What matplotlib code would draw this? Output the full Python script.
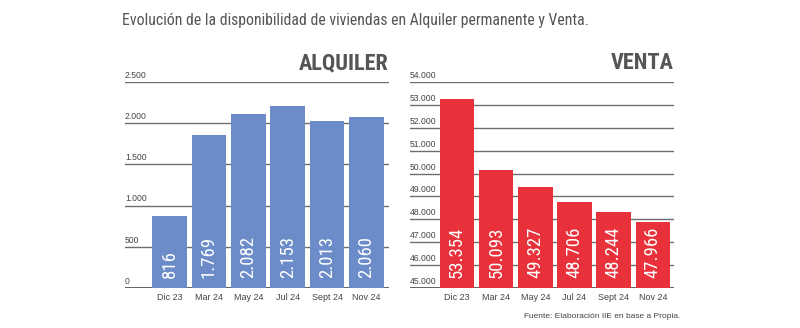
import matplotlib
matplotlib.use("Agg")
import matplotlib.pyplot as plt
from matplotlib import font_manager

names = {f.name for f in font_manager.fontManager.ttflist}
cond = None
for cand in ["Liberation Sans Narrow", "Roboto Condensed", "DejaVu Sans Condensed", "Open Sans Condensed"]:
    if cand in names:
        cond = cand
        break
if cond is None:
    cond = "DejaVu Sans"
plain = "Liberation Sans" if "Liberation Sans" in names else "DejaVu Sans"

categories = ["Dic 23", "Mar 24", "May 24", "Jul 24", "Sept 24", "Nov 24"]
alquiler_heights = [876, 1858, 2117, 2214, 2028, 2080]
alquiler_labels = ["816", "1.769", "2.082", "2.153", "2.013", "2.060"]
venta_heights = [53256, 50171, 49412, 48755, 48301, 47879]
venta_labels = ["53.354", "50.093", "49.327", "48.706", "48.244", "47.966"]
alq_ticks = [0, 500, 1000, 1500, 2000, 2500]
alq_ticklabels = ["0", "500", "1.000", "1.500", "2.000", "2.500"]
ven_ticks = [45000, 46000, 47000, 48000, 49000, 50000, 51000, 52000, 53000, 54000]
ven_ticklabels = ["45.000", "46.000", "47.000", "48.000", "49.000", "50.000",
                  "51.000", "52.000", "53.000", "54.000"]

W, H = 800, 328
fig = plt.figure(figsize=(8, 3.28), dpi=100)
fig.patch.set_facecolor("white")

def panel(rect, heights, labels, ticks, ticklabels, color, xlim, title):
    ax = fig.add_axes(rect)
    x = list(range(len(categories)))
    ax.bar(x, heights, width=0.88, color=color, zorder=3)
    ax.set_xlim(*xlim)
    ax.set_ylim(ticks[0], ticks[-1])
    for t in ticks:
        ax.axhline(t, color="#6e6e6e" if t != ticks[0] else "#555555",
                   lw=1.0 if t != ticks[0] else 1.3, zorder=1)
    for t, lab in zip(ticks, ticklabels):
        ax.annotate(lab, xy=(0, t), xycoords=("axes fraction", "data"),
                    xytext=(0, 1.5), textcoords="offset points",
                    ha="left", va="bottom", fontsize=6.2, color="#444444",
                    family=plain)
    for xi, lab in zip(x, labels):
        ax.annotate(lab, xy=(xi, ticks[0]), xytext=(0, 7), textcoords="offset points",
                    rotation=90, ha="center", va="bottom", color="white",
                    fontsize=13.5, family=cond)
    ax.set_xticks(x)
    ax.set_xticklabels(categories, fontsize=6.5, color="#444444", family=plain)
    ax.tick_params(axis="x", length=0, pad=4)
    ax.set_yticks([])
    for s in ax.spines.values():
        s.set_visible(False)
    ax.annotate(title, xy=(1, 1), xycoords="axes fraction", xytext=(0, 6),
                textcoords="offset points", ha="right", va="bottom",
                fontsize=16, fontweight="bold", color="#555555", family=cond)
    return ax

bottom = (H - 287.7) / H
height = 205.4 / H
panel([125 / W, bottom, 264 / W, height], alquiler_heights, alquiler_labels,
      alq_ticks, alq_ticklabels, "#6b8cc9", (-1.13, 5.57), "ALQUILER")
panel([410 / W, bottom, 264 / W, height], venta_heights, venta_labels,
      ven_ticks, ven_ticklabels, "#e8313a", (-1.2, 5.54), "VENTA")

fig.text(122 / W, 1 - 21 / H, "Evolución de la disponibilidad de viviendas en Alquiler permanente y Venta.",
         ha="left", va="center", fontsize=11.3, color="#555555", family=cond)
fig.text(680 / W, 1 - 316 / H, "Fuente: Elaboración IIE en base a Propia.",
         ha="right", va="center", fontsize=6, color="#444444", family=plain)

fig.savefig("out.png", dpi=100, facecolor="white")
